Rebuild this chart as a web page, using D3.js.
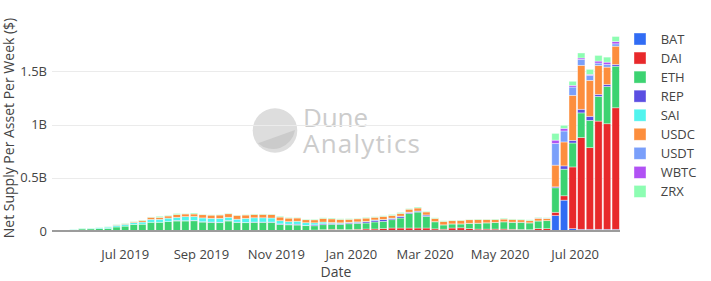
<!DOCTYPE html>
<html>
<head>
<meta charset="utf-8">
<script src="https://cdn.jsdelivr.net/npm/d3@7"></script>
<style>
  body { margin: 0; background: #fff; }
  svg { display: block; font-family: "Open Sans", sans-serif; }
</style>
</head>
<body>
<svg id="chart" width="711" height="281"></svg>
<script>
// weekly buckets (Monday of each week)
const weeks = [
  "2019-05-06", "2019-05-13", "2019-05-20", "2019-05-27", "2019-06-03", "2019-06-10", "2019-06-17", "2019-06-24",
  "2019-07-01", "2019-07-08", "2019-07-15", "2019-07-22", "2019-07-29", "2019-08-05", "2019-08-12", "2019-08-19",
  "2019-08-26", "2019-09-02", "2019-09-09", "2019-09-16", "2019-09-23", "2019-09-30", "2019-10-07", "2019-10-14",
  "2019-10-21", "2019-10-28", "2019-11-04", "2019-11-11", "2019-11-18", "2019-11-25", "2019-12-02", "2019-12-09",
  "2019-12-16", "2019-12-23", "2019-12-30", "2020-01-06", "2020-01-13", "2020-01-20", "2020-01-27", "2020-02-03",
  "2020-02-10", "2020-02-17", "2020-02-24", "2020-03-02", "2020-03-09", "2020-03-16", "2020-03-23", "2020-03-30",
  "2020-04-06", "2020-04-13", "2020-04-20", "2020-04-27", "2020-05-04", "2020-05-11", "2020-05-18", "2020-05-25",
  "2020-06-01", "2020-06-08", "2020-06-15", "2020-06-22", "2020-06-29", "2020-07-06", "2020-07-13", "2020-07-20",
  "2020-07-27", "2020-08-03"
];

// net supply per asset, millions of $
const BAT = [
  0, 0, 0, 0, 0, 0, 0, 0, 0, 0, 0, 0, 0, 0, 0, 0, 0, 0, 0, 0, 0, 0, 0, 0, 0, 0, 0, 0, 0, 0,
  0, 0, 0, 0, 0, 0, 0, 0, 0, 0, 0, 0, 0, 0, 0, 0, 0, 0, 0, 0, 0, 0, 0, 0, 0, 0, 0, 0,
  145, 290, 22, 16, 16, 16, 16, 16
];
const DAI = [
  0, 0, 0, 0, 0, 0, 0, 0, 0, 0, 0, 0, 0, 0, 0, 0, 0, 0, 0, 0, 0, 0, 0, 0, 0, 0, 0, 0, 0, 0,
  9, 12, 16, 14, 12, 16, 19, 19, 22, 28, 28, 28, 28, 28, 20, 17, 28, 30, 22, 18, 18, 18, 18, 16, 14, 12, 22, 22,
  31, 41, 580, 862, 767, 1017, 992, 1142
];
const ETH = [
  0, 0, 12, 19, 20, 22, 24, 38, 46, 62, 64, 82, 82, 88, 94, 94, 96, 84, 81, 78, 94, 81, 78, 81, 81, 81, 62, 58, 56, 50,
  40, 47, 47, 48, 56, 56, 56, 66, 69, 78, 94, 135, 150, 110, 66, 40, 38, 36, 50, 55, 58, 62, 68, 66, 68, 64, 72, 75,
  230, 250, 225, 232, 257, 232, 350, 391
];
const REP = [
  0, 0, 0, 0, 0, 0, 0, 0, 0, 0, 0, 0, 0, 0, 6, 3, 4, 3, 3, 4, 5, 2, 3, 3, 3, 3, 5, 6, 8, 3,
  9, 9, 9, 9, 9, 10, 12, 16, 16, 12, 16, 12, 9, 12, 2, 1, 1, 1, 1, 1, 1, 1, 1, 1, 1, 1, 1, 1,
  9, 31, 25, 34, 38, 19, 19, 16
];
const SAI = [
  0, 0, 4, 6, 6, 9, 12, 16, 17, 16, 20, 27, 28, 33, 28, 38, 36, 36, 35, 37, 30, 28, 38, 40, 40, 38, 30, 24, 28, 25,
  19, 16, 8, 6, 5, 4, 3, 3, 2, 3, 2, 2, 1, 1, 0, 0, 0, 0, 0, 0, 0, 0, 0, 0, 0, 0, 0, 0,
  0, 0, 0, 0, 0, 0, 0, 0
];
const USDC = [
  0, 0, 0, 0, 0, 0, 0, 3, 6, 8, 14, 20, 18, 20, 26, 25, 24, 30, 30, 31, 33, 36, 31, 31, 32, 32, 34, 33, 30, 28,
  28, 34, 34, 32, 28, 28, 31, 25, 28, 25, 25, 28, 28, 28, 30, 32, 30, 32, 33, 33, 30, 26, 25, 25, 22, 20, 25, 20,
  204, 225, 423, 413, 338, 272, 163, 172
];
const USDT = [
  0, 0, 0, 0, 0, 0, 0, 0, 0, 0, 0, 0, 0, 0, 0, 0, 0, 0, 0, 0, 0, 0, 0, 0, 0, 0, 0, 0, 0, 0,
  0, 0, 0, 0, 0, 0, 0, 0, 0, 0, 0, 0, 0, 0, 0, 0, 0, 0, 0, 0, 0, 0, 0, 0, 0, 0, 2, 2,
  204, 103, 78, 56, 47, 22, 25, 22
];
const WBTC = [
  0, 0, 0, 0, 0, 0, 0, 0, 0, 0, 0, 0, 0, 0, 0, 0, 0, 0, 0, 0, 0, 0, 0, 0, 0, 0, 0, 0, 0, 0,
  0, 0, 0, 0, 0, 0, 0, 0, 0, 0, 0, 0, 0, 0, 0, 0, 0, 0, 0, 0, 0, 0, 0, 0, 0, 0, 1, 1,
  31, 25, 16, 13, 9, 19, 22, 22
];
const ZRX = [
  0, 0, 1, 3, 2, 3, 4, 4, 4, 4, 5, 3, 10, 6, 10, 4, 9, 4, 3, 3, 5, 3, 3, 5, 4, 4, 8, 6, 5, 5,
  6, 6, 8, 6, 6, 5, 7, 5, 6, 9, 9, 6, 9, 6, 6, 6, 5, 4, 3, 4, 3, 5, 8, 5, 6, 8, 6, 5,
  63, 28, 38, 47, 47, 53, 47, 47
];

const seriesNames = ["BAT", "DAI", "ETH", "REP", "SAI", "USDC", "USDT", "WBTC", "ZRX"];
const seriesValues = [BAT, DAI, ETH, REP, SAI, USDC, USDT, WBTC, ZRX];
const seriesColors = ["#316cf4", "#e8292b", "#3cd371", "#5b4ee2", "#50f4ee", "#fd8e3d", "#7a9ffa", "#b152f4", "#8dfdb2"];

const yTicks = [0, 500, 1000, 1500];
const yTickLabels = ["0", "0.5B", "1B", "1.5B"];
const xTicks = ["2019-07-01", "2019-09-01", "2019-11-01", "2020-01-01", "2020-03-01", "2020-05-01", "2020-07-01"];

const width = 711, height = 281;
const margin = { top: 25, right: 91, bottom: 50, left: 52 };
const plotW = width - margin.left - margin.right;
const plotH = height - margin.top - margin.bottom;
const DAY = 864e5;

const parse = d3.utcParse("%Y-%m-%d");
const dates = weeks.map(parse);

const table = dates.map((d, i) => {
  const row = { date: d };
  seriesNames.forEach((name, k) => { row[name] = seriesValues[k][i]; });
  return row;
});

const x = d3.scaleUtc()
  .domain([new Date(+dates[0] - 3.5 * DAY), new Date(+dates[dates.length - 1] + 3.5 * DAY)])
  .range([0, plotW]);
const y = d3.scaleLinear().domain([0, 1936]).range([plotH, 0]);
const color = d3.scaleOrdinal().domain(seriesNames).range(seriesColors);

const svg = d3.select("#chart");
svg.append("rect").attr("width", width).attr("height", height).attr("fill", "#fff");

const g = svg.append("g").attr("transform", `translate(${margin.left},${margin.top})`);

// watermark (logo + wordmark), sits under the grid
const wm = g.append("g").attr("transform", `translate(${275 - margin.left},${130.5 - margin.top})`);
wm.append("circle").attr("r", 22.3).attr("fill", "#dddddd");
wm.append("path")
  .attr("d", "M-17,12.8 L20,-0.5 A22.3,22.3 0 0 1 -17,12.8 Z")
  .attr("fill", "#cbcbcb");
const word = wm.append("text").attr("font-size", 26).attr("fill", "#cccccc");
word.append("tspan").attr("x", 28).attr("y", -3.5).attr("textLength", 65).text("Dune");
word.append("tspan").attr("x", 28).attr("y", 22.5).attr("textLength", 117).text("Analytics");

// grid
g.append("g")
  .selectAll("line")
  .data(yTicks.slice(1))
  .join("line")
  .attr("x1", 0).attr("x2", plotW)
  .attr("y1", d => Math.round(y(d)) + 0.5).attr("y2", d => Math.round(y(d)) + 0.5)
  .attr("stroke", "#ebebeb").attr("stroke-width", 1);

// bars
const stacked = d3.stack().keys(seriesNames)(table);
const bw = (x(dates[1]) - x(dates[0])) * 0.85;

g.append("g")
  .selectAll("g")
  .data(stacked)
  .join("g")
  .attr("fill", s => color(s.key))
  .selectAll("rect")
  .data(s => s.filter(d => d[1] - d[0] > 0))
  .join("rect")
  .attr("x", d => x(d.data.date) - bw / 2)
  .attr("width", bw)
  .attr("y", d => y(d[1]))
  .attr("height", d => y(d[0]) - y(d[1]))
  .attr("stroke", "#ffffff")
  .attr("stroke-opacity", 0.55)
  .attr("stroke-width", 0.7);

// zero line
g.append("line")
  .attr("x1", 0).attr("x2", plotW)
  .attr("y1", y(0)).attr("y2", y(0))
  .attr("stroke", "#9c9c9c").attr("stroke-width", 2);

// y axis labels
g.append("g")
  .selectAll("text")
  .data(yTicks)
  .join("text")
  .attr("x", -5)
  .attr("y", d => y(d) + 4.5)
  .attr("text-anchor", "end")
  .attr("font-size", 13)
  .attr("fill", "#444")
  .text((d, i) => yTickLabels[i]);

// x axis labels
const fmt = d3.utcFormat("%b %Y");
g.append("g")
  .selectAll("text")
  .data(xTicks.map(parse))
  .join("text")
  .attr("x", d => x(d))
  .attr("y", plotH + 27.5)
  .attr("text-anchor", "middle")
  .attr("font-size", 13)
  .attr("fill", "#444")
  .text(d => fmt(d));

// axis titles
svg.append("text")
  .attr("x", margin.left + plotW / 2)
  .attr("y", 277)
  .attr("text-anchor", "middle")
  .attr("font-size", 14)
  .attr("fill", "#444")
  .text("Date");

svg.append("text")
  .attr("transform", `translate(14,${margin.top + plotH / 2}) rotate(-90)`)
  .attr("text-anchor", "middle")
  .attr("font-size", 14)
  .attr("fill", "#444")
  .text("Net Supply Per Asset Per Week ($)");

// legend
const legend = svg.append("g").attr("transform", "translate(634,33)");
const item = legend.selectAll("g")
  .data(seriesNames)
  .join("g")
  .attr("transform", (d, i) => `translate(0,${i * 19.05})`);
item.append("rect")
  .attr("width", 12).attr("height", 12)
  .attr("fill", d => color(d))
  .attr("stroke", "#fff").attr("stroke-opacity", 0.55).attr("stroke-width", 0.7);
item.append("text")
  .attr("x", 26.7).attr("y", 10.8)
  .attr("font-size", 13)
  .attr("fill", "#444")
  .text(d => d);
</script>
</body>
</html>
